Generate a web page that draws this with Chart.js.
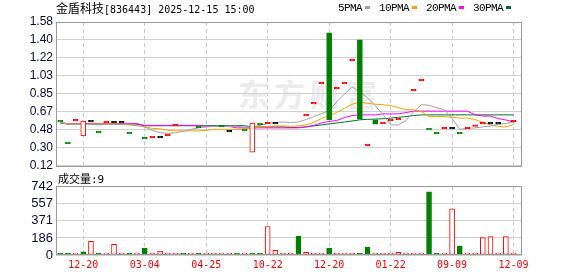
<!DOCTYPE html>
<html lang="zh">
<head>
  <meta charset="UTF-8" />
  <title>金盾科技 K线</title>
  <script src="https://cdn.jsdelivr.net/npm/chart.js"></script>
  <style>
    body { margin: 0; background: #fff; }
    .wrap { position: relative; width: 578px; height: 276px; overflow: hidden; background: #fff; }
    .wrap canvas { position: absolute; left: 0; }
    #priceChart { top: 0; }
    #volChart { top: 176px; }
    .title {
      position: absolute; left: 56px; top: 1px; font-size: 12px; color: #000; white-space: nowrap;
      font-family: "Noto Sans CJK SC", sans-serif; line-height: 14px;
    }
    .mono { font-family: "DejaVu Sans Mono", monospace; font-size: 10px; }
    .legend {
      position: absolute; top: 2px; left: 338px; white-space: nowrap;
      font-family: "Liberation Mono", monospace; font-size: 11px; letter-spacing: -0.6px; line-height: 13px; color: #000;
    }
    .legend i { display: inline-block; width: 5px; height: 3px; margin: 0 9px 2px 3px; vertical-align: middle; }
    .voltitle {
      position: absolute; left: 58px; top: 171px; font-size: 11px; white-space: nowrap;
      font-family: "Noto Sans CJK SC", sans-serif; line-height: 14px; color: #000;
    }
    .watermark {
      position: absolute; left: 238px; top: 70px; font-family: "Noto Sans CJK SC", sans-serif;
      font-size: 31px; font-weight: 700; letter-spacing: 5px; color: #ebebee; white-space: nowrap;
    }
  </style>
</head>
<body>
  <div class="wrap">
    <div class="watermark">东方财富</div>
    <canvas id="priceChart" width="578" height="176"></canvas>
    <canvas id="volChart" width="578" height="100"></canvas>
    <div class="title">金盾科技<span class="mono">[836443] 2025-12-15 15:00</span></div>
    <div class="legend">5PMA<i style="background:#a0a0a0"></i>10PMA<i style="background:#f5a300"></i>20PMA<i style="background:#ff00ff"></i>30PMA<i style="background:#006f30;margin-right:0"></i></div>
    <div class="voltitle">成交量<span class="mono" style="font-size:11px">:9</span></div>
  </div>

  <script>
    // axis labels
    const tickIdx = [3, 11, 19, 27, 35, 43, 51, 59];
    const tickLabels = ['12-20', '03-04', '04-25', '10-22', '12-20', '01-22', '09-09', '12-09'];
    const priceTicks = ['1.58', '1.40', '1.22', '1.03', '0.85', '0.67', '0.48', '0.30', '0.12'];
    const volTicks = ['742', '557', '371', '186', '0'];

    // daily candles (null = no visible candle)
    const openP = [0.573, 0.353, 0.583, 0.424, 0.573, 0.462, 0.563, 0.563, 0.563, 0.452,
      null, 0.401, 0.411, 0.411, 0.434, 0.533, null, null, 0.515, null,
      null, 0.523, 0.472, null, 0.485, 0.259, 0.546, 0.553, 0.553, null,
      null, null, 0.637, 0.756, 0.959, 1.469, 0.908, 0.959, 1.195, 1.398,
      0.333, 0.587, 0.553, 0.587, 0.597, null, 0.888, 0.992, 0.492, 0.452,
      0.502, 0.502, 0.452, 0.502, 0.529, 0.553, 0.553, 0.553, null, 0.573];
    const closeP = [0.573, 0.353, 0.583, 0.573, 0.573, 0.462, 0.563, 0.563, 0.563, 0.452,
      null, 0.401, 0.411, 0.411, 0.434, 0.533, null, null, 0.515, null,
      null, 0.523, 0.472, null, 0.485, 0.553, 0.546, 0.553, 0.553, null,
      null, null, 0.637, 0.756, 0.959, 0.587, 0.908, 0.959, 1.195, 0.594,
      0.333, 0.543, 0.553, 0.587, 0.597, null, 0.888, 0.992, 0.492, 0.452,
      0.502, 0.502, 0.452, 0.502, 0.529, 0.553, 0.553, 0.553, null, 0.573];
    // change vs previous close: 1 up, -1 down, 0 flat
    const priceChg = [-1, -1, 1, 1, 0, -1, 1, 0, 0, -1,
      0, -1, 1, 0, 1, 1, 0, 0, -1, 0,
      0, -1, 0, 0, -1, 1, -1, 1, 0, 0,
      0, 0, 1, 1, 1, -1, 1, 1, 1, -1,
      1, -1, 1, 1, 1, 0, 1, 1, -1, -1,
      1, 0, -1, 1, 1, 1, 0, 0, 0, 1];

    const ma5 = [0.56, 0.545, 0.54, 0.54, 0.54, 0.535, 0.54, 0.54, 0.54, 0.535,
      0.53, 0.515, 0.48, 0.455, 0.45, 0.455, 0.47, 0.49, 0.505, 0.515,
      0.52, 0.52, 0.52, 0.52, 0.515, 0.515, 0.53, 0.55, 0.56, 0.565,
      0.56, 0.565, 0.59, 0.62, 0.65, 0.68, 0.77, 0.85, 0.92, 0.87,
      0.81, 0.73, 0.64, 0.535, 0.535, 0.58, 0.67, 0.74, 0.735, 0.71,
      0.69, 0.6, 0.49, 0.5, 0.505, 0.515, 0.525, 0.54, 0.55, 0.565];
    const ma10 = [0.56, 0.545, 0.545, 0.545, 0.545, 0.545, 0.545, 0.545, 0.545, 0.54,
      0.53, 0.515, 0.5, 0.495, 0.48, 0.475, 0.475, 0.475, 0.475, 0.48,
      0.49, 0.49, 0.49, 0.49, 0.495, 0.505, 0.515, 0.52, 0.525, 0.525,
      0.52, 0.525, 0.536, 0.56, 0.6, 0.63, 0.66, 0.705, 0.745, 0.766,
      0.755, 0.745, 0.74, 0.732, 0.71, 0.69, 0.688, 0.67, 0.62, 0.62,
      0.62, 0.614, 0.604, 0.604, 0.59, 0.56, 0.536, 0.52, 0.515, 0.539];
    const ma20 = [0.56, 0.548, 0.548, 0.548, 0.548, 0.548, 0.548, 0.548, 0.548, 0.548,
      0.548, 0.53, 0.53, 0.53, 0.53, 0.53, 0.53, 0.53, 0.53, 0.52,
      0.52, 0.52, 0.52, 0.505, 0.505, 0.505, 0.505, 0.505, 0.505, 0.505,
      0.505, 0.505, 0.515, 0.53, 0.555, 0.57, 0.58, 0.61, 0.63, 0.637,
      0.637, 0.637, 0.647, 0.647, 0.647, 0.66, 0.675, 0.675, 0.675, 0.675,
      0.675, 0.675, 0.675, 0.675, 0.637, 0.625, 0.625, 0.6, 0.585, 0.567];
    const ma30 = [0.555, 0.543, 0.543, 0.543, 0.543, 0.543, 0.543, 0.543, 0.543, 0.543,
      0.543, 0.527, 0.527, 0.527, 0.527, 0.527, 0.527, 0.527, 0.527, 0.527,
      0.527, 0.527, 0.527, 0.527, 0.527, 0.515, 0.515, 0.515, 0.515, 0.515,
      0.508, 0.51, 0.515, 0.525, 0.535, 0.545, 0.555, 0.565, 0.575, 0.587,
      0.592, 0.594, 0.598, 0.604, 0.612, 0.62, 0.63, 0.637, 0.637, 0.637,
      0.637, 0.637, 0.637, 0.637, 0.637, 0.637, 0.637, 0.637, 0.637, 0.637];

    const volume = [8, 8, 8, 35, 150, 8, 8, 115, 20, 8,
      8, 75, 8, 43, 8, 8, 8, 8, 8, 8,
      8, 8, 8, 8, 8, 8, 8, 310, 50, 8,
      8, 205, 30, 8, 8, 75, 8, 8, 8, 8,
      85, 8, 8, 8, 30, 8, 8, 8, 688, 8,
      8, 502, 97, 8, 8, 190, 200, 8, 200, 9];
    const volChg = [-1, -1, 1, -1, 1, -1, 1, 1, 1, -1,
      1, -1, 1, 1, 1, 1, -1, 1, -1, 1,
      1, 1, 1, -1, 1, -1, -1, 1, 1, 1,
      1, -1, 1, 1, 1, -1, 1, 1, 1, -1,
      -1, 1, 1, 1, 1, 1, 1, 1, -1, -1,
      1, 1, -1, 1, 1, 1, 1, 1, 1, 1];

    const RED = '#ff0000', GREEN = '#008000', BLACK = '#000000';
    const X_MIN = -0.55, X_MAX = 60.1;
    const labelColor = '#0b0b3b';

    const candleData = [], candleFill = [], candleLine = [];
    openP.forEach((o, i) => {
      if (o === null) return;
      const c = closeP[i];
      let lo = Math.min(o, c), hi = Math.max(o, c);
      if (hi - lo < 0.016) { const m = (lo + hi) / 2; lo = m - 0.008; hi = m + 0.008; }
      const col = c > o ? RED : c < o ? GREEN : (priceChg[i] > 0 ? RED : priceChg[i] < 0 ? GREEN : BLACK);
      candleData.push({ x: i, y: [lo, hi] });
      candleLine.push(col);
      candleFill.push(c > o ? '#ffffff' : col);
    });

    const line = (arr, color) => ({
      type: 'line',
      data: arr.map((v, i) => ({ x: i, y: v })),
      borderColor: color,
      borderWidth: 1,
      pointRadius: 0,
      tension: 0,
      order: 1
    });

    // grey frame round the plot area
    const framePlugin = {
      id: 'frame',
      afterDraw(chart) {
        const { ctx, chartArea: a } = chart;
        ctx.save();
        ctx.strokeStyle = '#999999';
        ctx.lineWidth = 1;
        ctx.strokeRect(Math.floor(a.left) + 0.5, Math.floor(a.top) + 0.5, Math.round(a.width) - 1, Math.round(a.height));
        ctx.restore();
      }
    };

    const xScale = (showLabels, h) => ({
      type: 'linear',
      min: X_MIN,
      max: X_MAX,
      offset: false,
      afterBuildTicks: s => { s.ticks = tickIdx.map(v => ({ value: v })); },
      afterFit: s => { s.height = h; },
      grid: { color: '#c8c8c8', drawTicks: false, offset: false },
      border: { display: false, dash: [4, 3] },
      ticks: {
        display: showLabels,
        autoSkip: false,
        maxRotation: 0,
        padding: 4,
        color: RED,
        font: { family: 'DejaVu Sans Mono', size: 10 },
        callback: (v, i) => tickLabels[i]
      }
    });

    const yScale = (min, max, labels, size) => ({
      min: min,
      max: max,
      afterBuildTicks: s => {
        s.ticks = labels.map((t, i) => ({ value: max - i * (max - min) / (labels.length - 1) })).reverse();
      },
      afterFit: s => { s.width = 56; },
      grid: { color: '#d0d0d0', drawTicks: false },
      border: { display: false },
      ticks: {
        autoSkip: false,
        padding: 3,
        color: labelColor,
        font: { family: 'Liberation Sans', size: size },
        callback: (v, i) => labels[labels.length - 1 - i]
      }
    });

    new Chart(document.getElementById('priceChart'), {
      type: 'bar',
      data: {
        datasets: [
          {
            data: candleData,
            backgroundColor: candleFill,
            borderColor: candleLine,
            borderWidth: 1,
            borderSkipped: false,
            barThickness: 5,
            order: 0
          },
          line(ma5, '#a0a0a0'),
          line(ma10, '#f5a300'),
          line(ma20, '#ff00ff'),
          line(ma30, '#006f30')
        ]
      },
      options: {
        responsive: false,
        animation: false,
        devicePixelRatio: 1,
        layout: { padding: { top: 22, right: 56, bottom: 10, left: 0 } },
        plugins: { legend: { display: false }, tooltip: { enabled: false } },
        scales: {
          x: xScale(false, 0),
          y: yScale(0.12, 1.58, priceTicks, 12)
        }
      },
      plugins: [framePlugin]
    });

    new Chart(document.getElementById('volChart'), {
      type: 'bar',
      data: {
        datasets: [{
          data: volume.map((v, i) => ({ x: i, y: v })),
          backgroundColor: volChg.map(d => d > 0 ? '#ffffff' : GREEN),
          borderColor: volChg.map(d => d > 0 ? RED : GREEN),
          borderWidth: 1,
          borderSkipped: false,
          barThickness: 5,
          minBarLength: 2
        }]
      },
      options: {
        responsive: false,
        animation: false,
        devicePixelRatio: 1,
        layout: { padding: { top: 10, right: 56, bottom: 5, left: 0 } },
        plugins: { legend: { display: false }, tooltip: { enabled: false } },
        scales: {
          x: xScale(true, 16),
          y: yScale(0, 742, volTicks, 13)
        }
      },
      plugins: [framePlugin]
    });
  </script>
</body>
</html>
